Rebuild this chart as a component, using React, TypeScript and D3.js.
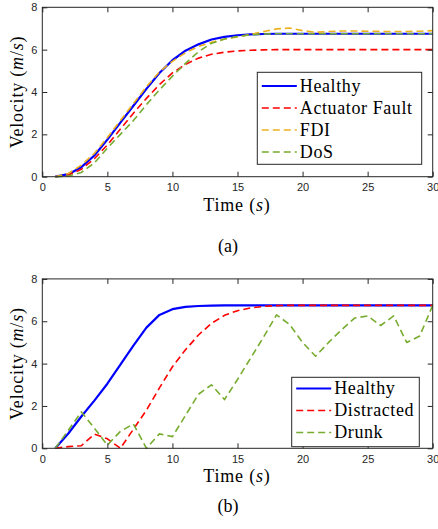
import { useRef, useEffect } from "react";
import * as d3 from "d3";

// time stamps (s) shared by every series
const timeSteps = [1, 2, 3, 4, 5, 6, 7, 8, 9, 10, 11, 12, 13, 14, 15, 16, 17, 18, 19, 20, 21, 22, 23, 24, 25, 26, 27, 28, 29, 30];

// panel (a) velocities (m/s)
const healthyA = [0, 0.12, 0.45, 1.0, 1.75, 2.55, 3.35, 4.15, 4.9, 5.5, 5.95, 6.25, 6.48, 6.6, 6.68, 6.72, 6.74, 6.75, 6.75, 6.75, 6.75, 6.75, 6.75, 6.75, 6.75, 6.75, 6.75, 6.75, 6.75, 6.75];
const actuatorFault = [0, 0.08, 0.35, 0.85, 1.5, 2.25, 3.0, 3.7, 4.35, 4.9, 5.3, 5.6, 5.78, 5.88, 5.94, 5.97, 5.99, 6.0, 6.0, 6.0, 6.0, 6.0, 6.0, 6.0, 6.0, 6.0, 6.0, 6.0, 6.0, 6.0];
const fdi = [0, 0.15, 0.55, 1.1, 1.85, 2.65, 3.45, 4.25, 4.95, 5.45, 5.85, 6.15, 6.35, 6.5, 6.6, 6.72, 6.85, 6.98, 7.02, 6.9, 6.82, 6.86, 6.88, 6.88, 6.87, 6.86, 6.86, 6.86, 6.87, 6.9];
const dos = [0, 0.03, 0.2, 0.65, 1.35, 2.0, 2.65, 3.4, 4.1, 4.75, 5.35, 5.9, 6.3, 6.5, 6.62, 6.7, 6.74, 6.75, 6.75, 6.75, 6.75, 6.75, 6.75, 6.75, 6.75, 6.75, 6.75, 6.75, 6.75, 6.75];

// panel (b) velocities (m/s)
const healthyB = [0, 0.7, 1.5, 2.25, 3.05, 3.95, 4.85, 5.7, 6.3, 6.57, 6.68, 6.72, 6.74, 6.75, 6.75, 6.75, 6.75, 6.75, 6.75, 6.75, 6.75, 6.75, 6.75, 6.75, 6.75, 6.75, 6.75, 6.75, 6.75, 6.75];
const distracted = [0, 0.08, 0.12, 0.67, 0.45, 0, 0.9, 1.8, 2.85, 3.85, 4.65, 5.35, 5.9, 6.28, 6.5, 6.63, 6.7, 6.74, 6.75, 6.75, 6.75, 6.75, 6.75, 6.75, 6.75, 6.75, 6.75, 6.75, 6.75, 6.75];
const drunk = [0, 0.85, 1.72, 0.95, 0.15, 0.8, 1.15, 0, 0.68, 0.55, 1.55, 2.55, 3.0, 2.3, 3.25, 4.25, 5.25, 6.3, 5.85, 5.0, 4.35, 5.0, 5.6, 6.15, 6.25, 5.8, 6.25, 5.0, 5.3, 6.75];

const xTicks = [0, 5, 10, 15, 20, 25, 30];
const yTicks = [0, 2, 4, 6, 8];

const width = 438,
  height = 529,
  marginLeft = 42.3,
  marginRight = 5.3,
  plotHeight = 169.4,
  axisColor = "#262626",
  serif = "'Liberation Serif', 'Times New Roman', serif",
  dash = "7,4";

function Panel({ top, series, legendBox, caption, captionY }) {
  const gx = useRef(),
    gxTop = useRef(),
    gy = useRef(),
    gyRight = useRef();

  const x = d3.scaleLinear().domain([0, 30]).range([marginLeft, width - marginRight]);
  const y = d3.scaleLinear().domain([0, 8]).range([top + plotHeight, top]);

  const line = d3
    .line()
    .x((_, i) => x(timeSteps[i]))
    .y((d) => y(d));

  useEffect(() => {
    const style = (g) => {
      g.select(".domain").remove();
      g.selectAll(".tick line").attr("stroke", axisColor);
      g.selectAll(".tick text")
        .attr("fill", axisColor)
        .attr("font-family", "Liberation Sans")
        .attr("font-size", 11);
    };
    d3.select(gx.current)
      .call(d3.axisBottom(x).tickValues(xTicks).tickSize(-5).tickPadding(7))
      .call(style);
    d3.select(gxTop.current)
      .call(d3.axisTop(x).tickValues(xTicks).tickSize(-5).tickFormat(() => ""))
      .call(style);
    d3.select(gy.current)
      .call(d3.axisLeft(y).tickValues(yTicks).tickSize(-5).tickPadding(5))
      .call(style);
    d3.select(gyRight.current)
      .call(d3.axisRight(y).tickValues(yTicks).tickSize(-5).tickFormat(() => ""))
      .call(style);
    // eslint-disable-next-line
  }, [top]);

  const left = x(0),
    right = x(30),
    bottom = y(0);

  return (
    <g>
      <rect x={left} y={top} width={right - left} height={plotHeight} fill="white" />
      {series.map((s) => (
        <path
          key={s.name}
          d={line(s.values)}
          fill="none"
          stroke={s.color}
          strokeWidth={s.dashed ? 1.6 : 2.2}
          strokeDasharray={s.dashed ? dash : null}
          strokeLinejoin="round"
        />
      ))}
      <rect x={left} y={top} width={right - left} height={plotHeight} fill="none" stroke={axisColor} strokeWidth={1} />
      <g ref={gx} transform={`translate(0,${bottom})`} />
      <g ref={gxTop} transform={`translate(0,${top})`} />
      <g ref={gy} transform={`translate(${left},0)`} />
      <g ref={gyRight} transform={`translate(${right},0)`} />

      {/* legend */}
      <rect
        x={legendBox.x}
        y={legendBox.y}
        width={legendBox.w}
        height={legendBox.h}
        fill="white"
        stroke={axisColor}
        strokeWidth={1}
      />
      {series.map((s, i) => {
        const ry = legendBox.firstRow + i * 22;
        return (
          <g key={s.name}>
            <line
              x1={legendBox.x + 4.5}
              x2={legendBox.x + 39.5}
              y1={ry}
              y2={ry}
              stroke={s.color}
              strokeWidth={s.dashed ? 1.6 : 2.2}
              strokeDasharray={s.dashed ? dash : null}
            />
            <text
              x={legendBox.x + 42.5}
              y={ry + 5.8}
              fontFamily={serif}
              fontSize={18}
              letterSpacing={0.6}
              fill="black"
            >
              {s.name}
            </text>
          </g>
        );
      })}

      {/* axis labels */}
      <text
        transform={`translate(23,${top + plotHeight / 2}) rotate(-90)`}
        textAnchor="middle"
        fontFamily={serif}
        fontSize={18}
        letterSpacing={0.8}
        fill="black"
      >
        Velocity (<tspan fontStyle="italic">m</tspan>/<tspan fontStyle="italic">s</tspan>)
      </text>
      <text
        x={237}
        y={bottom + 34}
        textAnchor="middle"
        fontFamily={serif}
        fontSize={18}
        letterSpacing={0.8}
        fill="black"
      >
        Time (<tspan fontStyle="italic">s</tspan>)
      </text>
      <text x={228} y={captionY} textAnchor="middle" fontFamily={serif} fontSize={18} fill="black">
        {caption}
      </text>
    </g>
  );
}

export default function App() {
  const seriesA = [
    { name: "Healthy", values: healthyA, color: "#0000ff", dashed: false },
    { name: "Actuator Fault", values: actuatorFault, color: "#ff0000", dashed: true },
    { name: "FDI", values: fdi, color: "#edb120", dashed: true },
    { name: "DoS", values: dos, color: "#77ac30", dashed: true },
  ];
  const seriesB = [
    { name: "Healthy", values: healthyB, color: "#0000ff", dashed: false },
    { name: "Distracted", values: distracted, color: "#ff0000", dashed: true },
    { name: "Drunk", values: drunk, color: "#77ac30", dashed: true },
  ];

  return (
    <svg
      width={width}
      height={height}
      viewBox={[0, 0, width, height].join(" ")}
      style={{ position: "absolute", left: 0, top: 0, background: "white" }}
    >
      <Panel
        top={7.3}
        series={seriesA}
        legendBox={{ x: 257.3, y: 72.3, w: 164.4, h: 92, firstRow: 86 }}
        caption="(a)"
        captionY={252}
      />
      <Panel
        top={278.9}
        series={seriesB}
        legendBox={{ x: 291.7, y: 377.3, w: 127.6, h: 69.4, firstRow: 388.5 }}
        caption="(b)"
        captionY={512}
      />
    </svg>
  );
}
